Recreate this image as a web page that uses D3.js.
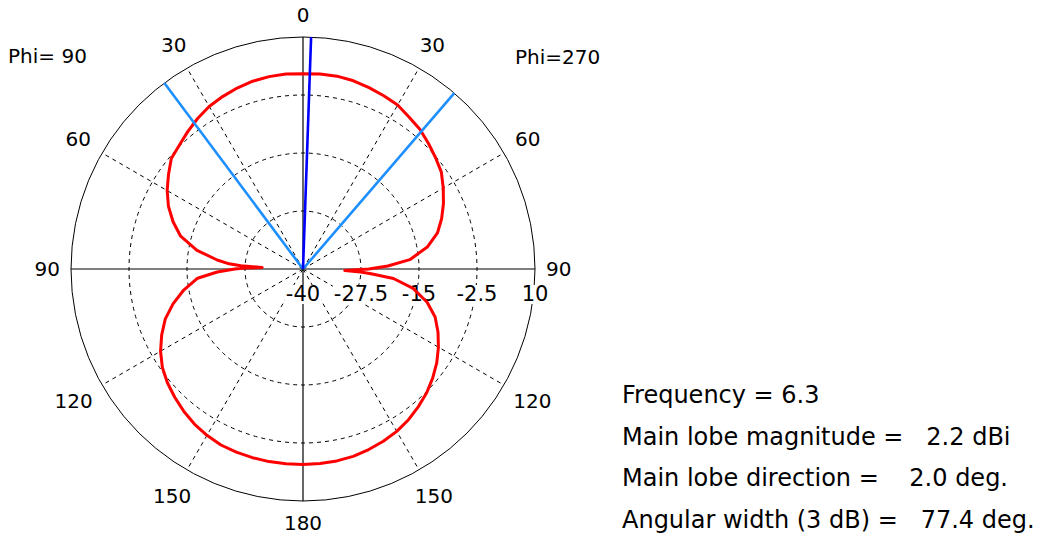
<!DOCTYPE html>
<html>
<head>
<meta charset="utf-8">
<script src="https://cdn.jsdelivr.net/npm/d3@7"></script>
<style>
  body { margin: 0; background: #fff; }
  svg { display: block; }
  text { font-family: "DejaVu Sans", Verdana, sans-serif; fill: #000; }
</style>
</head>
<body>
<svg id="chart" width="1040" height="537"></svg>
<script>
// Far-field gain cut, Phi = 270 half-plane (drawn on the right), theta in degrees
const thetaPhi270 = [0, 5, 10, 15, 20, 25, 30, 35, 40, 45, 50, 55, 60, 65, 70, 75, 80, 85, 88, 90,
  92, 93, 94, 96, 100, 105, 110, 115, 120, 125, 130, 135, 140, 145, 150, 155, 160, 165, 170, 175, 180];
const gainPhi270 = [2.1, 2.2, 2.2, 2.0, 1.6, 1.2, 0.8, -0.1, -0.75, -1.75, -2.7, -3.6, -5.1, -6.6, -8.2, -10.0, -12.8, -16.9, -21.7, -25.8,
  -31.0, -27.6, -25.3, -20.4, -15.9, -12.3, -9.7, -7.9, -6.3, -4.8, -3.5, -2.3, -1.3, -0.35, 0.4, 0.95, 1.4, 1.8, 2.0, 2.1, 2.15];

// Far-field gain cut, Phi = 90 half-plane (drawn on the left), theta in degrees
const thetaPhi90 = [0, 5, 10, 15, 20, 25, 30, 35, 40, 45, 50, 55, 60, 65, 70, 75, 80, 84, 86, 87,
  88, 89, 90, 92, 95, 100, 105, 110, 115, 120, 125, 130, 135, 140, 145, 150, 155, 160, 165, 170, 175, 180];
const gainPhi90 = [2.1, 2.2, 2.1, 1.9, 1.5, 1.0, 0.45, -0.4, -1.35, -2.3, -2.95, -4.6, -6.2, -8.0, -10.2, -12.7, -16.8, -21.4, -24.05, -26.6,
  -31.2, -27.5, -25.3, -21.5, -17.2, -13.9, -11.0, -8.4, -6.4, -4.55, -3.0, -1.85, -0.9, 0.0, 0.8, 1.4, 1.85, 2.0, 2.1, 2.15, 2.15, 2.15];

// Radial scale tick values (dB) and angular grid (deg)
const ringTicks = [-40, -27.5, -15, -2.5, 10];
const angleTicks = [0, 30, 60, 90, 120, 150, 180];

// Summary figures
const frequency = 6.3;
const mainLobeMagnitude = 2.2;   // dBi
const mainLobeDirection = 2.0;   // deg
const angularWidth = 77.4;       // deg (3 dB)

const svg = d3.select("#chart");
const cx = 303, cy = 269, R = 232;
const rScale = d3.scaleLinear().domain([ringTicks[0], ringTicks[ringTicks.length - 1]]).range([0, R]);
const rad = d => d * Math.PI / 180;

const plot = svg.append("g").attr("transform", `translate(${cx},${cy})`);
const grid = plot.append("g");

// dashed rings, dash pattern aligned so a dash sits on each axis
ringTicks.slice(1, -1).forEach(v => {
  const rr = rScale(v);
  const p = d3.path();
  p.moveTo(rr, 0);
  p.arc(0, 0, rr, 0, Math.PI * 2);
  const n = 4 * Math.round(2 * Math.PI * rr / 32);
  grid.append("path")
    .attr("d", p.toString())
    .attr("fill", "none")
    .attr("stroke", "#000")
    .attr("stroke-width", 1)
    .attr("pathLength", n * 8)
    .attr("stroke-dasharray", "4 4")
    .attr("stroke-dashoffset", 2);
});

// dashed radial spokes
const spoke = d3.lineRadial();
angleTicks.filter(a => a % 90 !== 0).forEach(a => {
  [a, -a].forEach(s => {
    grid.append("path")
      .attr("d", spoke([[rad(s), 0], [rad(s), R]]))
      .attr("fill", "none")
      .attr("stroke", "#000")
      .attr("stroke-width", 1)
      .attr("stroke-dasharray", "4 4");
  });
});

// solid axes and outer circle
grid.append("line").attr("x1", -R).attr("x2", R).attr("y1", 0).attr("y2", 0)
  .attr("stroke", "#000").attr("stroke-width", 1.2);
grid.append("line").attr("x1", 0).attr("x2", 0).attr("y1", -R).attr("y2", R)
  .attr("stroke", "#000").attr("stroke-width", 1.2);
grid.append("circle").attr("r", R).attr("fill", "none")
  .attr("stroke", "#000").attr("stroke-width", 1);

// radial tick labels along the horizontal axis (with white backing)
const ringLabels = plot.append("g");
ringTicks.forEach(v => {
  const t = ringLabels.append("text")
    .attr("x", rScale(v))
    .attr("y", 32)
    .attr("text-anchor", "middle")
    .style("font-size", "21px")
    .text(v);
  const b = t.node().getBBox();
  ringLabels.insert("rect", () => t.node())
    .attr("x", b.x - 1).attr("y", b.y + 3)
    .attr("width", b.width + 2).attr("height", b.height - 5)
    .attr("fill", "#fff");
});

// angle labels around the circle
const angleLabels = plot.append("g");
const R0 = 243;
angleTicks.forEach(a => {
  const sides = (a === 0 || a === 180) ? [a] : [a, -a];
  sides.forEach(s => {
    const t = angleLabels.append("text")
      .style("font-size", "20px")
      .attr("text-anchor", "middle")
      .attr("dominant-baseline", "central")
      .text(a);
    const b = t.node().getBBox();
    const sx = Math.sin(rad(s)), cyv = -Math.cos(rad(s));
    const off = Math.abs(sx) * b.width / 2 + Math.abs(cyv) * b.height * 0.45;
    t.attr("x", (R0 + off) * sx).attr("y", (R0 + off) * cyv);
  });
});

// gain pattern: right half (Phi=270) then left half (Phi=90) back to boresight
const pts = thetaPhi270.map((t, i) => [rad(t), rScale(gainPhi270[i])])
  .concat(thetaPhi90.map((t, i) => [-rad(t), rScale(gainPhi90[i])]).reverse());
plot.append("path")
  .attr("d", d3.lineRadial().curve(d3.curveLinearClosed)(pts))
  .attr("fill", "none")
  .attr("stroke", "#ff0000")
  .attr("stroke-width", 3)
  .attr("stroke-linejoin", "round");

// 3 dB beam edges and main lobe direction
[mainLobeDirection - angularWidth / 2, mainLobeDirection + angularWidth / 2].forEach(a => {
  plot.append("path")
    .attr("d", spoke([[rad(a), 0], [rad(a), R]]))
    .attr("stroke", "#1e8fff")
    .attr("stroke-width", 2.6);
});
plot.append("path")
  .attr("d", spoke([[rad(mainLobeDirection), 0], [rad(mainLobeDirection), R]]))
  .attr("stroke", "#0000ff")
  .attr("stroke-width", 2.6);

// half-plane captions
svg.append("text").attr("x", 8).attr("y", 63).style("font-size", "20px").text("Phi= 90");
svg.append("text").attr("x", 515).attr("y", 64).style("font-size", "20px").text("Phi=270");

// summary block
const info = [
  `Frequency = ${frequency}`,
  `Main lobe magnitude =   ${mainLobeMagnitude.toFixed(1)} dBi`,
  `Main lobe direction =    ${mainLobeDirection.toFixed(1)} deg.`,
  `Angular width (3 dB) =   ${angularWidth.toFixed(1)} deg.`
];
svg.append("g").selectAll("text").data(info).join("text")
  .attr("x", 622)
  .attr("y", (d, i) => 403 + i * 41.7)
  .style("font-size", "24px")
  .style("white-space", "pre")
  .attr("xml:space", "preserve")
  .text(d => d);
</script>
</body>
</html>
